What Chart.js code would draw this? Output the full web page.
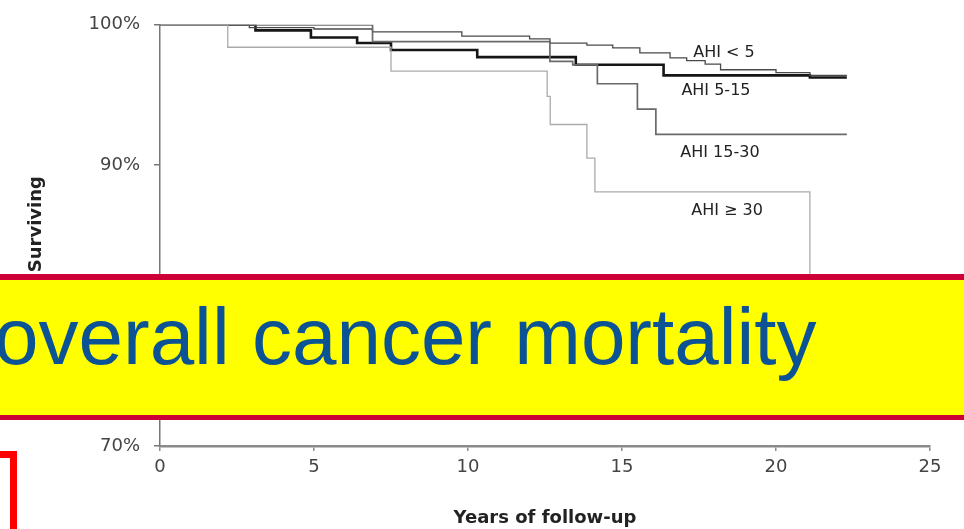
<!DOCTYPE html>
<html>
<head>
<meta charset="utf-8">
<title>Overall cancer mortality by AHI</title>
<script src="https://cdn.jsdelivr.net/npm/chart.js@4/dist/chart.umd.min.js"></script>
<style>
  html, body { margin: 0; padding: 0; background: #fff; }
  #wrap { position: relative; width: 964px; height: 529px; overflow: hidden; }
  #km { position: absolute; left: 0; top: 0; filter: blur(0.5px); }
  .banner {
    position: absolute; left: 0; top: 274px; width: 964px; height: 146px;
    box-sizing: border-box; background: #ffff00;
    border-top: 6px solid #cc0036; border-bottom: 5px solid #cc0036;
  }
  .banner span {
    position: absolute; left: -6px; top: 17px;
    font: 80px/80px "Liberation Sans", Arial, sans-serif;
    color: #0b5394; white-space: nowrap;
  }
  .bracket {
    position: absolute; left: 0; top: 451px; width: 17px; height: 100px;
    box-sizing: border-box; border-top: 7px solid #ff0000; border-right: 7px solid #ff0000;
  }
</style>
</head>
<body>
<div id="wrap">
  <canvas id="km" width="964" height="529"></canvas>
  <div class="banner"><span>overall cancer mortality</span></div>
  <div class="bracket"></div>
</div>
<script>
// Kaplan-Meier survival by apnea-hypopnea index group (years, % surviving)
const groupNames = ['AHI < 5', 'AHI 5-15', 'AHI 15-30', 'AHI \u2265 30'];

const ahiLt5Years = [0, 2.9, 5.0, 6.9, 9.8, 12.0, 12.66, 13.86, 14.7, 15.58, 16.56, 17.1, 17.7, 18.2, 20.0, 21.1, 22.3];
const ahiLt5Surv  = [100, 99.8, 99.7, 99.5, 99.2, 99.0, 98.7, 98.55, 98.35, 98.0, 97.65, 97.45, 97.2, 96.8, 96.6, 96.4, 96.4];

const ahi5to15Years = [0, 3.1, 4.9, 6.4, 7.5, 10.3, 13.5, 16.35, 21.1, 22.3];
const ahi5to15Surv  = [100, 99.6, 99.1, 98.7, 98.2, 97.7, 97.15, 96.4, 96.25, 96.25];

const ahi15to30Years = [0, 6.9, 12.66, 13.4, 14.2, 15.5, 16.1, 22.3];
const ahi15to30Surv  = [100, 98.8, 97.4, 97.15, 95.8, 94.0, 92.2, 92.2];

const ahiGe30Years = [0, 2.2, 7.5, 12.57, 12.67, 13.86, 14.12, 21.1];
const ahiGe30Surv  = [100, 98.4, 96.7, 94.9, 92.9, 90.5, 88.1, 78.0];

const yearTicks = [0, 5, 10, 15, 20, 25];
const survivalTicks = [70, 80, 90, 100];

const toPoints = (xs, ys) => xs.map((x, i) => ({ x: x, y: ys[i] }));

const lineStyles = [
  { color: '#4a4a4a', width: 1.3 },
  { color: '#151515', width: 2.6 },
  { color: '#6a6a6a', width: 1.7 },
  { color: '#ababab', width: 1.3 }
];

const series = [
  toPoints(ahiLt5Years, ahiLt5Surv),
  toPoints(ahi5to15Years, ahi5to15Surv),
  toPoints(ahi15to30Years, ahi15to30Surv),
  toPoints(ahiGe30Years, ahiGe30Surv)
];

// draw order: lightest curve first so darker curves sit on top
const drawOrder = [3, 2, 0, 1];

// group labels placed next to their curves (data coordinates)
const labelAnchors = [
  { x: 18.31, y: 97.98 },
  { x: 18.05, y: 95.33 },
  { x: 18.18, y: 90.86 },
  { x: 18.41, y: 86.74 }
];

const curveLabels = {
  id: 'curveLabels',
  afterDatasetsDraw(chart) {
    const { ctx, scales } = chart;
    ctx.save();
    ctx.font = '16px "DejaVu Sans", sans-serif';
    ctx.fillStyle = '#222';
    ctx.textAlign = 'center';
    ctx.textBaseline = 'middle';
    groupNames.forEach((name, i) => {
      ctx.fillText(name, scales.x.getPixelForValue(labelAnchors[i].x), scales.y.getPixelForValue(labelAnchors[i].y));
    });
    // vertical axis title
    ctx.font = 'bold 18px "DejaVu Sans", sans-serif';
    ctx.translate(36, scales.y.getPixelForValue(85.8));
    ctx.rotate(-Math.PI / 2);
    ctx.fillText('Surviving', 0, 0);
    ctx.restore();
  }
};

new Chart(document.getElementById('km'), {
  type: 'line',
  data: {
    datasets: drawOrder.map(i => ({
      label: groupNames[i],
      data: series[i],
      stepped: 'before',
      borderColor: lineStyles[i].color,
      borderWidth: lineStyles[i].width,
      pointRadius: 0,
      fill: false
    }))
  },
  options: {
    responsive: false,
    animation: false,
    layout: { padding: { left: 0, right: 34, top: 16, bottom: 0 } },
    plugins: { legend: { display: false }, tooltip: { enabled: false } },
    scales: {
      x: {
        type: 'linear', min: 0, max: 25,
        afterBuildTicks: s => { s.ticks = yearTicks.map(v => ({ value: v })); },
        afterFit: s => { s.height = 83; },
        ticks: { color: '#444', font: { family: 'DejaVu Sans', size: 18 }, padding: 6, maxRotation: 0 },
        grid: { display: true, drawOnChartArea: false, drawTicks: true, tickLength: 5, color: '#8a8a8a', lineWidth: 1.5 },
        border: { display: true, color: '#8a8a8a', width: 2.5 },
        title: {
          display: true, text: 'Years of follow-up', color: '#222',
          font: { family: 'DejaVu Sans', size: 18, weight: 'bold' },
          padding: { top: 0, bottom: 0 }
        }
      },
      y: {
        type: 'linear', min: 70, max: 100,
        afterBuildTicks: s => { s.ticks = survivalTicks.map(v => ({ value: v })); },
        afterFit: s => { s.width = 160; },
        ticks: { color: '#444', font: { family: 'DejaVu Sans', size: 18 }, padding: 14, callback: v => v + '%' },
        grid: { display: true, drawOnChartArea: false, drawTicks: true, tickLength: 6, color: '#777', lineWidth: 1.5 },
        border: { display: true, color: '#777', width: 1.5 }
      }
    }
  },
  plugins: [curveLabels]
});
</script>
</body>
</html>
